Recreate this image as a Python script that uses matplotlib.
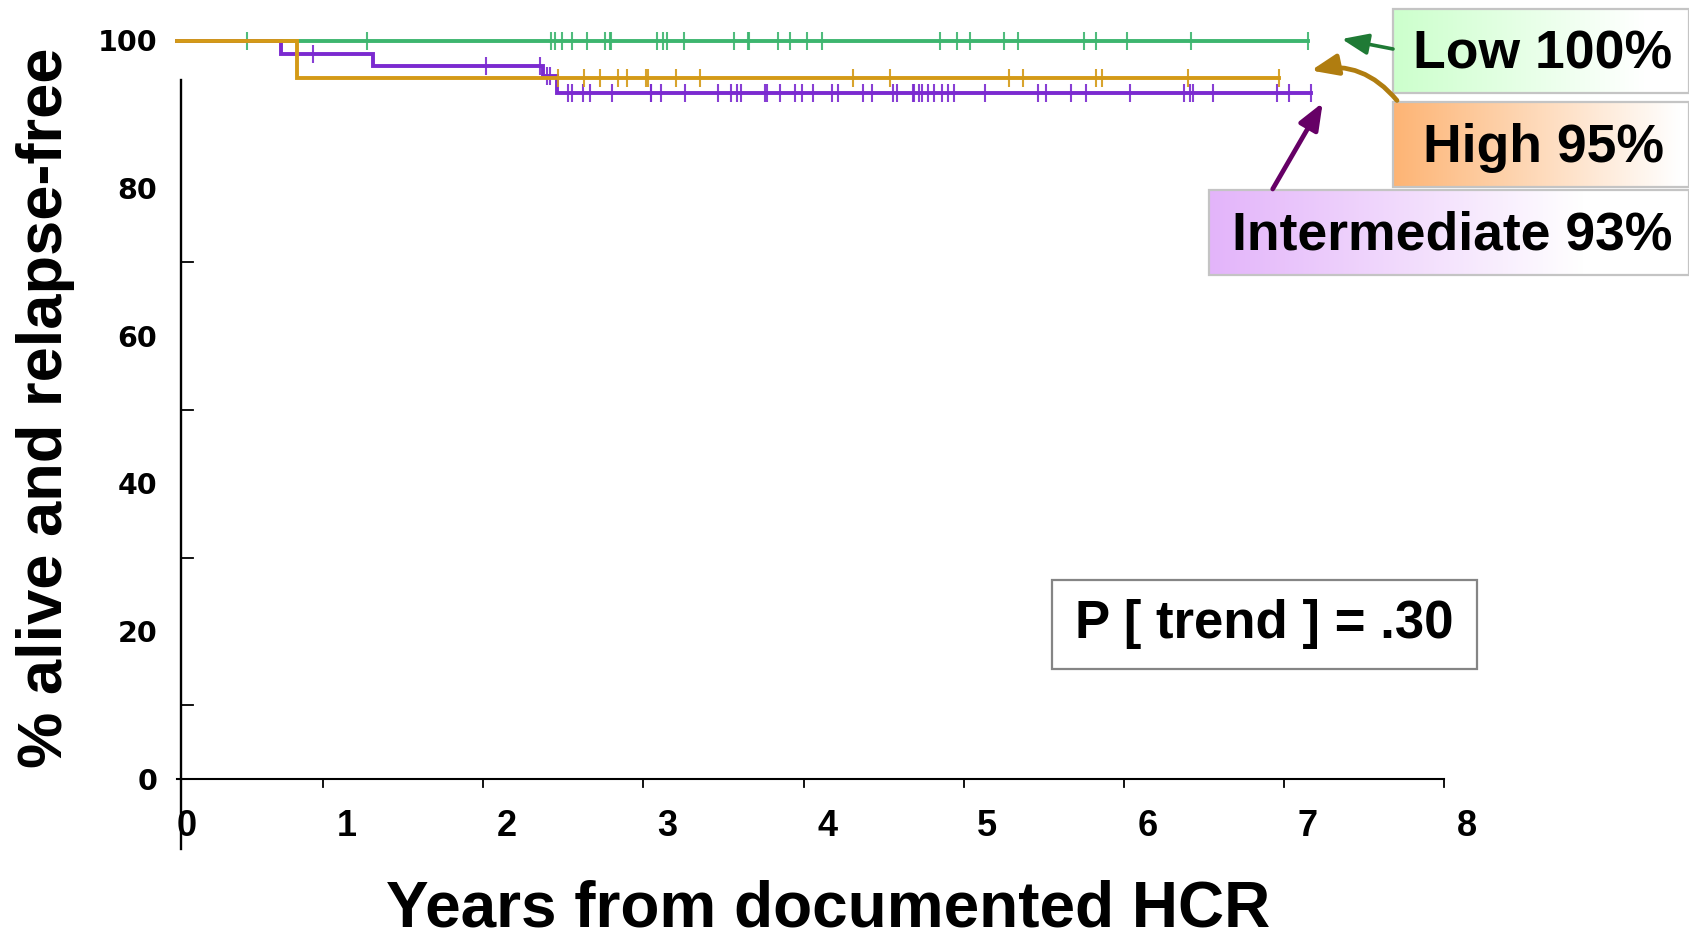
import numpy as np
import matplotlib
matplotlib.use("Agg")
import matplotlib.pyplot as plt
from matplotlib import transforms
from matplotlib.patches import Rectangle, FancyArrowPatch

plt.rcParams['font.family'] = ['Liberation Sans', 'DejaVu Sans']

# ---- Kaplan-Meier data: years from documented HCR, % alive and relapse-free ----
low_step_times = []
low_step_surv = []
low_end = 7.062
low_censor = [0.433, 1.183, 2.334, 2.359, 2.406, 2.465, 2.559, 2.669, 2.703, 2.709,
              2.997, 3.032, 3.059, 3.167, 3.480, 3.567, 3.573, 3.751, 3.826, 3.936,
              4.027, 4.765, 4.874, 4.952, 5.163, 5.254, 5.663, 5.737, 5.931, 6.333,
              7.062]

high_step_times = [0.745]
high_step_surv = [95.0]
high_end = 6.885
high_censor = [2.380, 2.542, 2.640, 2.754, 2.810, 2.926, 2.938, 3.117, 3.265, 4.219,
               4.452, 5.198, 5.281, 5.741, 5.775, 6.316, 6.885]

intermediate_step_times = [0.647, 1.220, 2.283, 2.374]
intermediate_step_surv = [98.3, 96.6, 95.3, 93.0]
intermediate_end = 7.083
intermediate_censor = [0.849, 1.926, 2.266, 2.309, 2.328, 2.440, 2.464, 2.535, 2.581,
                       2.714, 2.956, 2.962, 3.022, 3.170, 3.378, 3.461, 3.495, 3.520,
                       3.671, 3.682, 3.763, 3.859, 3.901, 3.969, 4.090, 4.126, 4.282,
                       4.340, 4.473, 4.496, 4.594, 4.604, 4.632, 4.650, 4.688, 4.728,
                       4.778, 4.817, 4.853, 5.046, 5.375, 5.429, 5.583, 5.679, 5.952,
                       6.291, 6.327, 6.344, 6.471, 6.871, 6.947, 7.083]

x_tick_values = [0, 1, 2, 3, 4, 5, 6, 7, 8]
x_tick_labels = ['0', '1', '2', '3', '4', '5', '6', '7', '8']
y_tick_values = [0, 20, 40, 60, 80, 100]
y_tick_labels = ['0', '20', '40', '60', '80', '100']
frame_x_ticks = [0.912, 1.912, 2.912, 3.912, 4.912, 5.912, 6.912, 7.912]
frame_y_ticks = [10, 30, 50, 70]

group_labels = ['Low 100%', 'High 95%', 'Intermediate 93%']
p_label = 'P [ trend ] = .30'
x_title = 'Years from documented HCR'
y_title = '% alive and relapse-free'

# ---- colours ----
c_low, c_high, c_int = '#3DB56F', '#D49A17', '#7B2AD0'
c_low_arrow, c_high_arrow, c_int_arrow = '#1F7A35', '#B07D10', '#660066'
c_low_box, c_high_box, c_int_box = '#CCFFCC', '#FDB474', '#E3B4FA'

W, H = 1690, 933
fig = plt.figure(figsize=(W / 100, H / 100), dpi=100)

# plot area in pixels: x=0 -> 177.4 px, 160.05 px / year ; y=0 -> 779.3 px, 7.383 px / %
x0_px, px_per_year = 177.4, 160.05
y0_px, px_per_pct = 779.3, 7.383
ax = fig.add_axes([x0_px / W, (H - y0_px) / H,
                   8 * px_per_year / W, 100 * px_per_pct / H])
ax.set_xlim(0, 8)
ax.set_ylim(0, 100)
ax.axis('off')


def km_curve(step_times, step_surv, end):
    t = np.concatenate([[0.0], step_times, [end]])
    s = np.concatenate([[100.0], step_surv, [step_surv[-1] if len(step_surv) else 100.0]])
    return t, s


def surv_at(times, step_times, step_surv):
    levels = np.concatenate([[100.0], step_surv])
    idx = np.searchsorted(np.asarray(step_times, dtype=float), times, side='right')
    return levels[idx]


groups = [
    (low_step_times, low_step_surv, low_end, low_censor, c_low, 2),
    (intermediate_step_times, intermediate_step_surv, intermediate_end,
     intermediate_censor, c_int, 3),
    (high_step_times, high_step_surv, high_end, high_censor, c_high, 4),
]
for st, ss, end, cens, col, z in groups:
    t, s = km_curve(st, ss, end)
    ax.step(t, s, where='post', color=col, lw=2.8, zorder=z, clip_on=False,
            solid_joinstyle='miter')
    cy = surv_at(np.asarray(cens), st, ss)
    ax.plot(cens, cy, ls='none', marker='|', ms=13.5, mew=1.5, color=col,
            alpha=0.9, zorder=z, clip_on=False)

# ---- frame: left spine, baseline and their ticks ----
spine_x = 0.0225
ax.plot([spine_x, spine_x], [-9.44, 94.75], color='black', lw=1.7, clip_on=False, zorder=1)
ax.plot([-0.001, 7.914], [0, 0], color='black', lw=1.5, clip_on=False, zorder=1)
tick_dx = 12 / px_per_year
for v in frame_y_ticks:
    ax.plot([spine_x, spine_x + tick_dx], [v, v], color='black', lw=1.3, clip_on=False)
tick_dy = 8 / px_per_pct
for v in frame_x_ticks:
    ax.plot([v, v], [0, -tick_dy], color='black', lw=1.3, clip_on=False)

# ---- tick labels ----
xlab_tr = ax.transData + transforms.ScaledTranslation(0.096, -0.567, fig.dpi_scale_trans)
for v, lab in zip(x_tick_values, x_tick_labels):
    ax.text(v, 0, lab, transform=xlab_tr, ha='center', va='baseline',
            fontsize=26, fontweight='bold', clip_on=False)
ylab_tr = ax.transData + transforms.ScaledTranslation(-0.20, -0.104, fig.dpi_scale_trans)
for v, lab in zip(y_tick_values, y_tick_labels):
    ax.text(0, v, lab, transform=ylab_tr, ha='right', va='baseline',
            fontsize=20.5, fontweight='bold', family='DejaVu Sans', clip_on=False)

# ---- overlay in pixel coordinates for titles, boxes and arrows ----
axp = fig.add_axes([0, 0, 1, 1], zorder=5)
axp.set_xlim(0, W)
axp.set_ylim(H, 0)
axp.axis('off')
axp.patch.set_alpha(0)

axp.text(828, 926.5, x_title, ha='center', va='baseline', fontsize=46,
         fontweight='bold')
axp.text(62, 408, y_title, ha='center', va='baseline', rotation=90,
         rotation_mode='anchor', fontsize=45.5, fontweight='bold')


def gradient_box(x0, x1, y0, y1, color, fade):
    rgb = np.array(matplotlib.colors.to_rgb(color))
    n = 256
    f = np.clip(np.linspace(0, 1, n) / fade, 0, 1)[:, None]
    row = rgb * (1 - f) + np.ones(3) * f
    img = np.repeat(row[None, :, :], 2, axis=0)
    axp.imshow(img, extent=(x0, x1, y1, y0), aspect='auto', interpolation='bilinear',
               zorder=2)
    axp.add_patch(Rectangle((x0, y0), x1 - x0, y1 - y0, fill=False, ec='#C4C4C4',
                            lw=1.6, zorder=3))


gradient_box(1393, 1689, 8.5, 93, c_low_box, 0.85)
gradient_box(1393, 1689, 101.7, 186.7, c_high_box, 0.97)
gradient_box(1209, 1689, 189.5, 275, c_int_box, 0.78)
axp.set_xlim(0, W)
axp.set_ylim(H, 0)

axp.text(1543, 68.3, group_labels[0], ha='center', va='baseline', fontsize=38.5,
         fontweight='bold', zorder=4)
axp.text(1543.5, 161.7, group_labels[1], ha='center', va='baseline', fontsize=38.5,
         fontweight='bold', zorder=4)
axp.text(1452, 249, group_labels[2], ha='center', va='baseline', fontsize=38.5,
         fontweight='bold', zorder=4)

# p-value box
axp.add_patch(Rectangle((1051.7, 580), 425, 89.3, fill=True, fc='white', ec='#858585',
                        lw=1.6, zorder=3))
axp.text(1264, 638.3, p_label, ha='center', va='baseline', fontsize=38,
         fontweight='bold', zorder=4)

# arrows from the labels to the curves
arrow_kw = dict(arrowstyle='-|>,head_length=0.8,head_width=0.32', mutation_scale=20,
                shrinkA=0, shrinkB=0, zorder=4)
axp.add_patch(FancyArrowPatch((1393, 49), (1341.7, 39), color=c_low_arrow, lw=2.6,
                              **arrow_kw))
axp.add_patch(FancyArrowPatch((1397, 100.5), (1311, 70.5), color=c_high_arrow, lw=3.4,
                              connectionstyle='arc3,rad=0.3', **arrow_kw))
axp.add_patch(FancyArrowPatch((1272.7, 189), (1322.7, 102.7), color=c_int_arrow, lw=3.4,
                              **arrow_kw))

fig.savefig('out.png', dpi=100)
